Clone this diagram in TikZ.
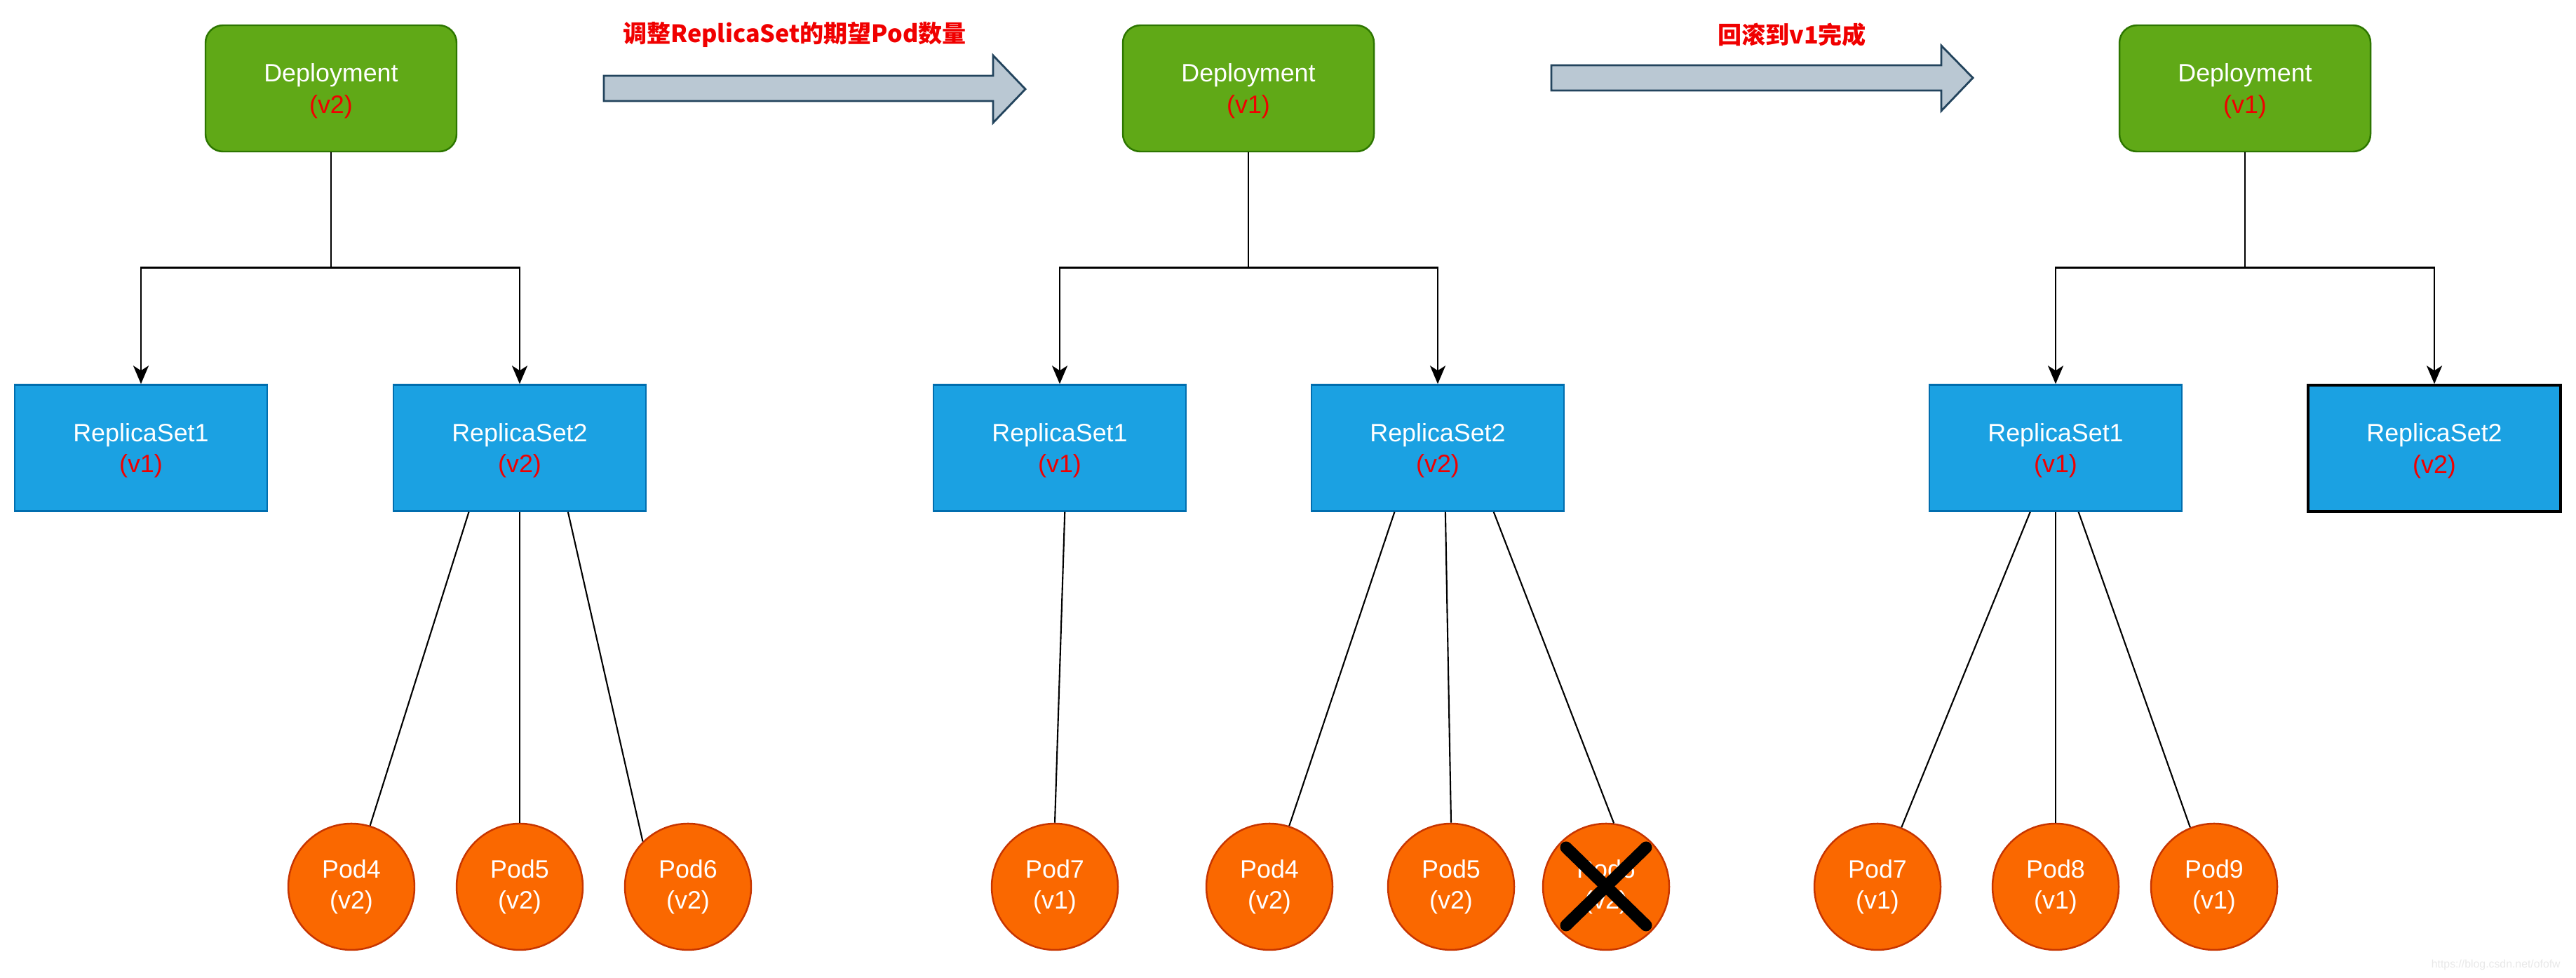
\documentclass[tikz,border=0pt]{standalone}
\usepackage{fontspec}
\setmainfont{Liberation Sans}
\newfontfamily\cjk{Noto Sans CJK SC}
\usepackage{tikz}
\usetikzlibrary{shapes,arrows.meta,positioning,calc}
\definecolor{depgreen}{HTML}{60A917}
\definecolor{depline}{HTML}{2D7600}
\definecolor{rsblue}{HTML}{1BA1E2}
\definecolor{rsline}{HTML}{006EAF}
\definecolor{podorange}{HTML}{FA6800}
\definecolor{podline}{HTML}{C73500}
\definecolor{arrfill}{HTML}{BAC8D3}
\definecolor{arrline}{HTML}{23445D}
\definecolor{vred}{HTML}{F00000}
\newcommand{\nodefont}{\fontsize{10.2}{12.6}\selectfont}
\tikzstyle{deploy} = [rectangle, rounded corners=0.25cm, draw=depline, line width=0.7pt, fill=depgreen, text=white, align=center, font=\nodefont, text depth=0pt, minimum width=3.58cm, minimum height=1.80cm]
\tikzstyle{rset} = [rectangle, draw=rsline, line width=0.7pt, fill=rsblue, text=white, align=center, font=\nodefont, text depth=0pt, minimum width=3.60cm, minimum height=1.80cm]
\tikzstyle{pod} = [circle, draw=podline, line width=0.7pt, fill=podorange, text=white, align=center, font=\nodefont, minimum size=1.80cm, inner sep=0pt]
\tikzstyle{stepnote} = [text=vred, font=\cjk\bfseries\fontsize{9.7}{12}\selectfont]
\tikzstyle{tedge} = [draw, line width=0.8pt, -{Stealth[length=0.26cm, width=0.22cm, inset=0.07cm]}]
\tikzstyle{link} = [draw, line width=0.6pt]
\tikzstyle{bigarrow} = [draw=arrline, fill=arrfill, line width=0.8pt]
\tikzstyle{cross} = [draw, line width=0.17cm, line cap=round]

\begin{document}
\begin{tikzpicture}
\useasboundingbox (0,0) rectangle (36.73,-13.93);

% step 1 =============================

\node[deploy] (dep1) at (4.72,-1.26) {Deployment\\\textcolor{vred}{(v2)}};
\node[rset, below=3.30cm of dep1, xshift=-2.71cm] (rs1) {ReplicaSet1\\\textcolor{vred}{(v1)}};
\node[rset, below=3.30cm of dep1, xshift=2.69cm] (rs2) {ReplicaSet2\\\textcolor{vred}{(v2)}};

\node[pod, below=4.43cm of rs2, xshift=-2.40cm] (pod4) {Pod4\\(v2)};
\node[pod, below=4.43cm of rs2] (pod5) {Pod5\\(v2)};
\node[pod, below=4.43cm of rs2, xshift=2.40cm] (pod6) {Pod6\\(v2)};

% step 2 =============================

\node[deploy] (dep2) at (17.80,-1.26) {Deployment\\\textcolor{vred}{(v1)}};
\node[rset, below=3.30cm of dep2, xshift=-2.69cm] (rs1b) {ReplicaSet1\\\textcolor{vred}{(v1)}};
\node[rset, below=3.30cm of dep2, xshift=2.70cm] (rs2b) {ReplicaSet2\\\textcolor{vred}{(v2)}};

\node[pod, below=4.43cm of rs1b, xshift=-0.07cm] (pod7b) {Pod7\\(v1)};
\node[pod, below=4.43cm of rs2b, xshift=-2.40cm] (pod4b) {Pod4\\(v2)};
\node[pod, below=4.43cm of rs2b, xshift=0.19cm] (pod5b) {Pod5\\(v2)};
\node[pod, below=4.43cm of rs2b, xshift=2.40cm] (pod6b) {Pod6\\(v2)};

% step 3 =============================

\node[deploy] (dep3) at (32.01,-1.26) {Deployment\\\textcolor{vred}{(v1)}};
\node[rset, below=3.30cm of dep3, xshift=-2.70cm] (rs1c) {ReplicaSet1\\\textcolor{vred}{(v1)}};
\node[rset, below=3.30cm of dep3, xshift=2.70cm, draw=black, line width=1pt] (rs2c) {ReplicaSet2\\\textcolor{vred}{(v2)}};

\node[pod, below=4.43cm of rs1c, xshift=-2.54cm] (pod7c) {Pod7\\(v1)};
\node[pod, below=4.43cm of rs1c] (pod8c) {Pod8\\(v1)};
\node[pod, below=4.43cm of rs1c, xshift=2.26cm] (pod9c) {Pod9\\(v1)};

% transitions
\node[stepnote] (note1) at (11.33,-0.49) {调整ReplicaSet的期望Pod数量};
\draw[bigarrow] (8.61,-1.08) -- ++(5.55,0) -- ++(0,0.29) -- ++(0.46,-0.48) -- ++(-0.46,-0.48) -- ++(0,0.31) -- ++(-5.55,0) -- cycle;
\node[stepnote] (note2) at (25.55,-0.49) {回滚到v1完成};
\draw[bigarrow] (22.12,-0.93) -- ++(5.56,0) -- ++(0,0.28) -- ++(0.45,-0.46) -- ++(-0.45,-0.47) -- ++(0,0.29) -- ++(-5.56,0) -- cycle;

\node[font=\fontsize{4.5}{5}\selectfont, text=black!9, anchor=east] (mark) at (36.63,-13.75) {https://blog.csdn.net/ofofw};

%edges
\coordinate (j1) at ($(dep1.south)+(0,-1.64)$);
\coordinate (j2) at ($(dep2.south)+(0,-1.64)$);
\coordinate (j3) at ($(dep3.south)+(0,-1.64)$);

\path[tedge] (dep1.south) -- (j1) -| (rs1.north);
\path[tedge] (j1) -| (rs2.north);
\path[tedge] (dep2.south) -- (j2) -| (rs1b.north);
\path[tedge] (j2) -| (rs2b.north);
\path[tedge] (dep3.south) -- (j3) -| (rs1c.north);
\path[tedge] (j3) -| (rs2c.north);

\path[link] ($(rs2.south west)!0.30!(rs2.south east)$) -- (pod4.73);
\path[link] (rs2.south) -- (pod5.north);
\path[link] ($(rs2.south west)!0.69!(rs2.south east)$) -- (pod6.135);

\path[link] ($(rs1b.south west)!0.52!(rs1b.south east)$) -- (pod7b.north);
\path[link] ($(rs2b.south west)!0.33!(rs2b.south east)$) -- (pod4b.72);
\path[link] ($(rs2b.south west)!0.53!(rs2b.south east)$) -- (pod5b.north);
\path[link] ($(rs2b.south west)!0.72!(rs2b.south east)$) -- (pod6b.83);

\path[link] ($(rs1c.south west)!0.40!(rs1c.south east)$) -- (pod7c.68);
\path[link] (rs1c.south) -- (pod8c.north);
\path[link] ($(rs1c.south west)!0.59!(rs1c.south east)$) -- (pod9c.112);

% removed pod
\path[cross] ($(pod6b)+(-0.57,0.56)$) -- ($(pod6b)+(0.57,-0.55)$);
\path[cross] ($(pod6b)+(0.57,0.56)$) -- ($(pod6b)+(-0.57,-0.55)$);

\end{tikzpicture}
\end{document}
